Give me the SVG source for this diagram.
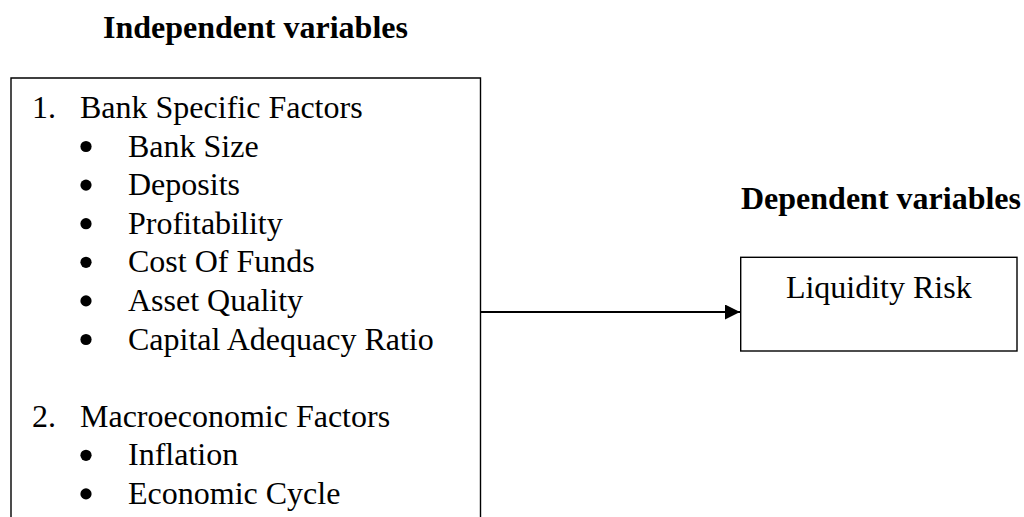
<svg xmlns="http://www.w3.org/2000/svg" width="1024" height="517" viewBox="0 0 1024 517">
  <style>
    text { font-family: "Liberation Serif", "Times New Roman", serif; font-size: 32px; fill: #000; }
    .head { font-weight: bold; }
    .box { fill: #fff; stroke: #000; stroke-width: 1.4; }
    .bullet { fill: #000; }
    .link { stroke: #000; stroke-width: 1.8; fill: none; }
  </style>
  <defs>
    <marker id="arrow" markerUnits="userSpaceOnUse" markerWidth="16" markerHeight="16" refX="15" refY="7.5" orient="auto">
      <path d="M0,0 L15,7.5 L0,15 Z" fill="#000"/>
    </marker>
  </defs>

  <rect width="1024" height="517" fill="#fff"/>

  <!-- column headings -->
  <text class="head" x="103" y="38">Independent variables</text>
  <text class="head" x="741" y="209">Dependent variables</text>

  <!-- independent variables box (continues past the lower edge) -->
  <g id="independent">
    <path class="box" d="M11,530 L11,78 L480.5,78 L480.5,530"/>
    <text x="32" y="118">1.</text>
    <text x="80" y="118">Bank Specific Factors</text>
    <circle class="bullet" cx="86" cy="146.5" r="5.6"/>
    <text x="128" y="156.6">Bank Size</text>
    <circle class="bullet" cx="86" cy="185.1" r="5.6"/>
    <text x="128" y="195.2">Deposits</text>
    <circle class="bullet" cx="86" cy="223.7" r="5.6"/>
    <text x="128" y="233.8">Profitability</text>
    <circle class="bullet" cx="86" cy="262.3" r="5.6"/>
    <text x="128" y="272.4">Cost Of Funds</text>
    <circle class="bullet" cx="86" cy="300.9" r="5.6"/>
    <text x="128" y="311">Asset Quality</text>
    <circle class="bullet" cx="86" cy="339.5" r="5.6"/>
    <text x="128" y="349.6">Capital Adequacy Ratio</text>
    <text x="32" y="426.8">2.</text>
    <text x="80" y="426.8">Macroeconomic Factors</text>
    <circle class="bullet" cx="86" cy="455.3" r="5.6"/>
    <text x="128" y="465.4">Inflation</text>
    <circle class="bullet" cx="86" cy="493.9" r="5.6"/>
    <text x="128" y="504">Economic Cycle</text>
  </g>

  <!-- dependent variable box -->
  <g id="dependent">
    <rect class="box" x="740.7" y="257.3" width="276.3" height="93.7"/>
    <text x="878.8" y="298" text-anchor="middle">Liquidity Risk</text>
  </g>

  <g id="connectors">
    <line class="link" x1="481" y1="312" x2="740" y2="312" marker-end="url(#arrow)"/>
  </g>
</svg>
